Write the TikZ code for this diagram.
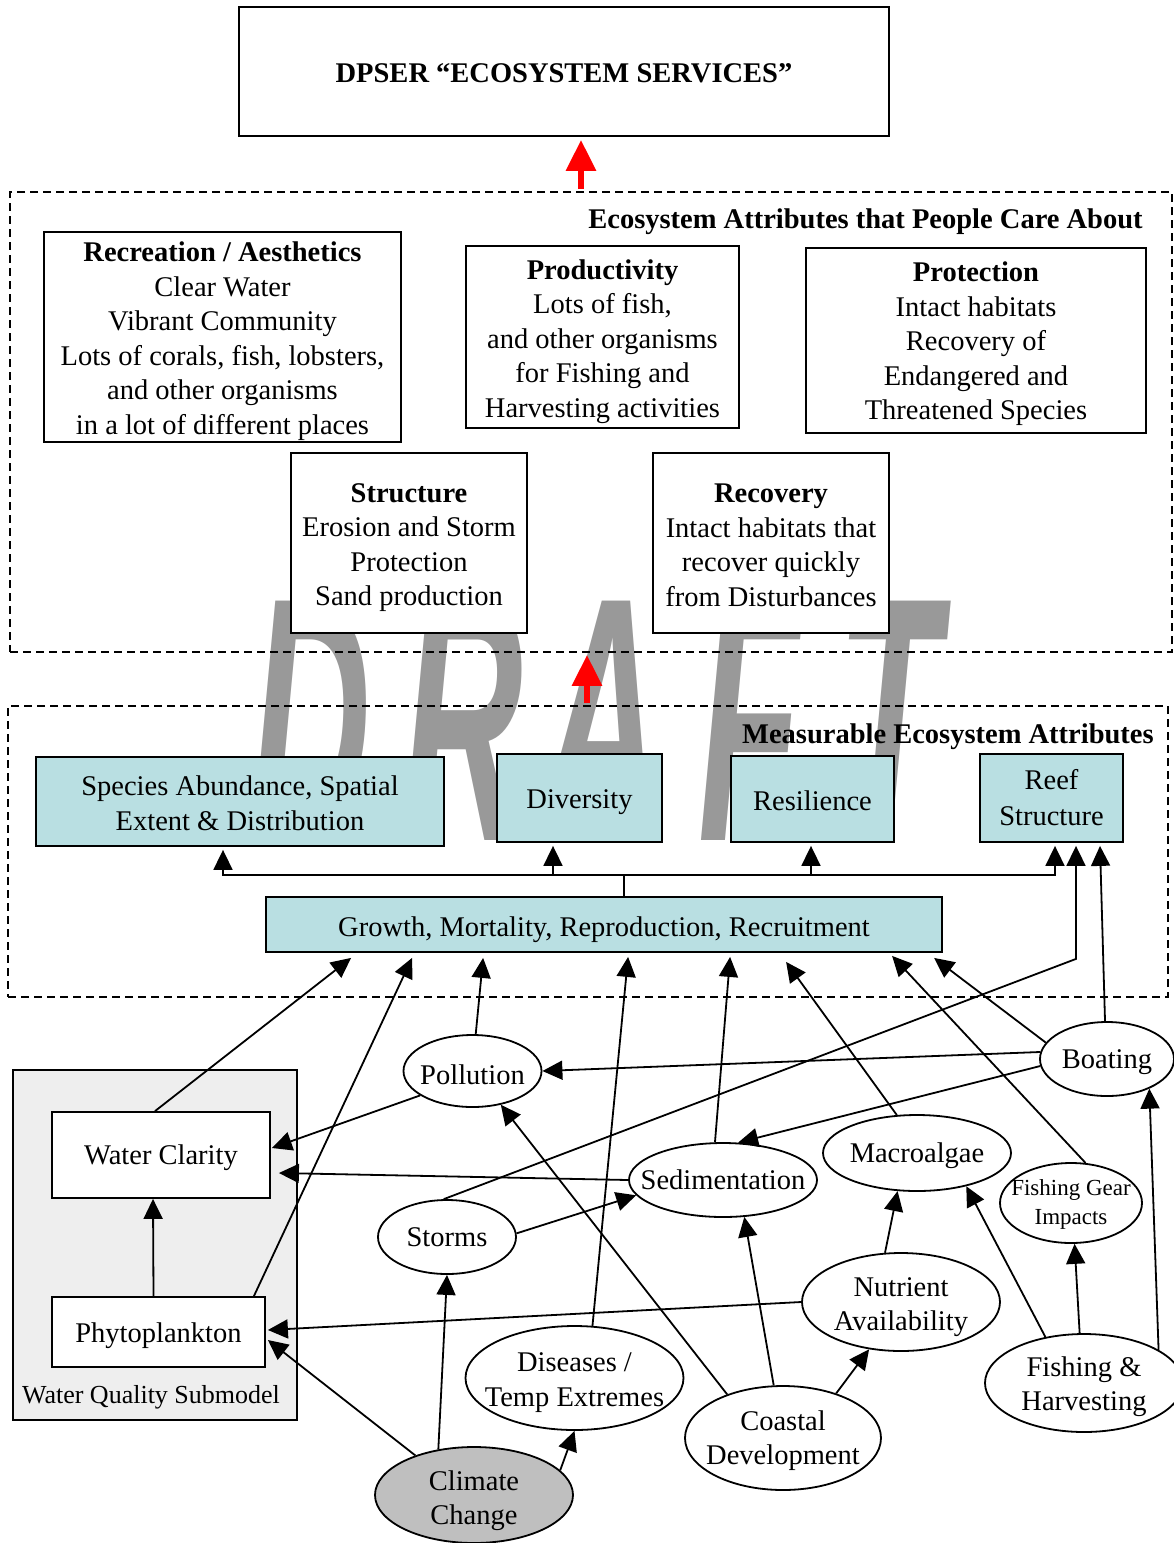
\documentclass[tikz,border=0pt]{standalone}
\usepackage{fontspec}
\usepackage{graphicx}
\setmainfont{Liberation Serif}
\newfontfamily\wmfont{Liberation Sans}
\usetikzlibrary{shapes.geometric,arrows.meta}

\definecolor{boxcyan}{RGB}{185,223,226}
\definecolor{wmgray}{RGB}{153,153,153}
\definecolor{wqgray}{RGB}{238,238,238}
\definecolor{ccgray}{RGB}{191,191,191}

\newcommand\txt{\fontsize{28.5}{34.5}\selectfont}
\newcommand\smalltxt{\fontsize{23}{29}\selectfont}

\tikzset{
  base/.style={line width=1.8pt},
  plainbox/.style={draw, line width=1.8pt, fill=white, inner sep=0pt},
  cyanbox/.style={plainbox, fill=boxcyan},
  ell/.style={draw, ellipse, line width=1.8pt, fill=white, inner sep=0pt},
  lbl/.style={align=center, inner sep=0pt},
  dashbox/.style={draw, line width=1.8pt, dash pattern=on 8pt off 5pt, inner sep=0pt},
  conn/.style={line width=1.8pt, -{Triangle[length=20pt,width=19pt]}},
  redarr/.style={draw=red, line width=6pt, -{Triangle[length=31pt,width=29pt]}},
  wm/.style={anchor=base, inner sep=0pt, text=wmgray,
    font={\wmfont\bfseries\itshape\fontsize{348}{348}\selectfont}},
  title/.style={anchor=east, inner sep=0pt, font=\txt\bfseries},
}

\begin{document}
\begin{tikzpicture}[x=1pt, y=-1pt, font=\txt]
\useasboundingbox (0,0) rectangle (1174,1543);

% background watermark
\foreach \ch/\cx in {D/311,R/463,A/602,F/750,T/889}
  \node[wm] (wm\ch) at (\cx,840) {\scalebox{0.48}[1]{\ch}};

% top-level box
\node[plainbox, minimum width=650pt, minimum height=129pt,
  label={[lbl, yshift=-2pt, font=\txt\bfseries]center:{DPSER “ECOSYSTEM SERVICES”}}]
  (top) at (564,71.5) {};

% attributes that people care about
\node[dashbox, minimum width=1162pt, minimum height=460pt] (care) at (591,422) {};
\node[title] (caretitle) at ([shift={(-30,31)}]care.north east)
  {Ecosystem Attributes that People Care About};

\node[plainbox, minimum width=357pt, minimum height=210pt,
  label={[lbl, yshift=-4pt]center:{\textbf{Recreation / Aesthetics}\\Clear Water\\Vibrant Community\\
   Lots of corals, fish, lobsters,\\and other organisms\\in a lot of different places}}]
  (rec) at (222.5,337) {};
\node[plainbox, minimum width=273pt, minimum height=182pt,
  label={[lbl, yshift=-4.5pt]center:{\textbf{Productivity}\\Lots of fish,\\and other organisms\\
   for Fishing and\\Harvesting activities}}]
  (prod) at (602.5,337) {};
\node[plainbox, minimum width=340pt, minimum height=185pt,
  label={[lbl, yshift=-3.5pt]center:{\textbf{Protection}\\Intact habitats\\Recovery of\\
   Endangered and\\Threatened Species}}]
  (prot) at (976,340.5) {};
\node[plainbox, minimum width=236pt, minimum height=180pt,
  label={[lbl, yshift=-4.5pt]center:{\textbf{Structure}\\Erosion and Storm\\Protection\\Sand production}}]
  (struc) at (409,543) {};
\node[plainbox, minimum width=236pt, minimum height=180pt,
  label={[lbl, yshift=-2.5pt]center:{\textbf{Recovery}\\Intact habitats that\\recover quickly\\from Disturbances}}]
  (recov) at (771,543) {};

% measurable attributes
\node[dashbox, minimum width=1160pt, minimum height=291pt] (meas) at (588,851.5) {};
\node[title] (meastitle) at ([shift={(-15,32)}]meas.north east)
  {Measurable Ecosystem Attributes};

\node[cyanbox, minimum width=408pt, minimum height=89pt,
  label={[lbl, yshift=-1.5pt, font=\fontsize{28.5}{35}\selectfont]center:{Species Abundance, Spatial\\
   Extent \& Distribution}}]
  (sp) at (240,801.5) {};
\node[cyanbox, minimum width=165pt, minimum height=88pt,
  label={[lbl, yshift=-4pt]center:Diversity}] (div) at (579.5,798) {};
\node[cyanbox, minimum width=163pt, minimum height=86pt,
  label={[lbl, yshift=-2pt]center:Resilience}] (res) at (812.5,799) {};
\node[cyanbox, minimum width=143pt, minimum height=88pt,
  label={[lbl, font=\fontsize{28.5}{36}\selectfont]center:{Reef\\Structure}}]
  (reef) at (1051.5,798) {};
\node[cyanbox, minimum width=676pt, minimum height=55pt,
  label={[lbl, yshift=-5pt]center:{Growth, Mortality, Reproduction, Recruitment}}]
  (grow) at (604,924.5) {};

% water quality submodel
\node[draw, line width=1.8pt, fill=wqgray, minimum width=284pt, minimum height=350pt,
  inner sep=0pt] (wq) at (155,1245) {};
\node[inner sep=0pt, font=\fontsize{26}{30}\selectfont] (wqlabel) at (151,1397)
  {Water Quality Submodel};
\node[plainbox, minimum width=218pt, minimum height=86pt,
  label={[lbl, yshift=-3pt]center:Water Clarity}] (wc) at (161,1155) {};
\node[plainbox, minimum width=213pt, minimum height=70pt,
  label={[lbl, yshift=-4pt]center:Phytoplankton}] (phy) at (158.5,1332) {};

% drivers and pressures
\node[ell, minimum width=138pt, minimum height=72pt,
  label={[lbl, yshift=-4pt]center:Pollution}] (pol) at (472.5,1071) {};
\node[ell, minimum width=134pt, minimum height=74pt,
  label={[lbl, yshift=-3pt]center:Boating}] (boat) at (1107,1059) {};
\node[ell, minimum width=188pt, minimum height=74pt,
  label={[lbl]center:Sedimentation}] (sed) at (723,1180) {};
\node[ell, minimum width=188pt, minimum height=76pt,
  label={[lbl, yshift=-3pt]center:Macroalgae}] (mac) at (917,1153) {};
\node[ell, minimum width=142pt, minimum height=80pt,
  label={[lbl, yshift=-1pt, font=\smalltxt]center:{Fishing Gear\\Impacts}}] (fg) at (1071,1203) {};
\node[ell, minimum width=138pt, minimum height=74pt,
  label={[lbl]center:Storms}] (sto) at (447,1237) {};
\node[ell, minimum width=198pt, minimum height=98pt,
  label={[lbl, yshift=-5pt]center:{Nutrient\\Availability}}] (nut) at (901,1302) {};
\node[ell, minimum width=218pt, minimum height=104pt,
  label={[lbl, yshift=-4.5pt]center:{Diseases /\\Temp Extremes}}] (dis) at (574.5,1378) {};
\node[ell, minimum width=196pt, minimum height=104pt,
  label={[lbl, yshift=-2.5pt]center:{Coastal\\Development}}] (coast) at (783,1438) {};
\node[ell, minimum width=198pt, minimum height=98pt,
  label={[lbl, yshift=-3.5pt]center:{Fishing \&\\Harvesting}}] (fh) at (1084,1383) {};
\node[ell, fill=ccgray, minimum width=198pt, minimum height=96pt,
  label={[lbl, yshift=-5.5pt]center:{Climate\\Change}}] (cc) at (474,1495) {};

% flows between the tiers
\draw[redarr] ([shift={(-10,-2)}]care.north) -- ([shift={(17,3)}]top.south);
\draw[redarr] ([shift={(-1,-2)}]meas.north) -- ([shift={(-4,2)}]care.south);

% growth feeds the measurable attributes
\coordinate (bus) at ([shift={(20,-21)}]grow.north);
\draw[base] (bus) -- ([xshift=20pt]grow.north);
\draw[conn] (bus) -| ([shift={(-17,3)}]sp.south);
\draw[conn] (bus) -| ([shift={(-26.5,3)}]div.south);
\draw[conn] (bus) -| ([shift={(-1.5,3)}]res.south);
\draw[conn] (bus) -| ([shift={(3.5,3)}]reef.south);

% inputs to growth, mortality, reproduction, recruitment
\draw[conn] ([xshift=-6pt]wc.north) -- ([shift={(86,5)}]grow.south west);
\draw[conn] ([xshift=-12pt]phy.north east) -- ([shift={(147,5)}]grow.south west);
\draw[conn] (pol.85) -- ([shift={(218,5)}]grow.south west);
\draw[conn] (dis.71) -- ([shift={(363,4)}]grow.south west);
\draw[conn] (sed.102) -- ([shift={(465,4)}]grow.south west);
\draw[conn] (mac.118) -- ([shift={(521,9)}]grow.south west);
\draw[conn] (fg.70) -- ([shift={(627,3)}]grow.south west);
\draw[conn] (boat.165) -- ([shift={(669,5)}]grow.south west);

% inputs to reef structure
\draw[conn] (sto.95) -- ([shift={(24.5,116)}]reef.south) -- ([shift={(24.5,3)}]reef.south);
\draw[conn] (boat.93) -- ([shift={(48.5,3)}]reef.south);

% pressures among drivers
\draw[conn] (boat.174) -- (pol.east);
\draw[conn] (boat.186) -- (sed.68);
\draw[conn] (pol.205) -- ([shift={(1,-7)}]wc.east);
\draw[conn] (sed.west) -- ([shift={(8,18)}]wc.east);
\draw[conn] (sto.3) -- (sed.190);
\draw[conn] ([xshift=-5pt]phy.north) -- ([xshift=-8pt]wc.south);
\draw[conn] (cc.128) -- (sto.south);
\draw[conn] (cc.146) -- ([shift={(2,8)}]phy.east);
\draw[conn] (cc.16) -- (dis.south);
\draw[conn] (coast.142) -- (pol.310);
\draw[conn] (coast.100) -- (sed.300);
\draw[conn] (coast.40) -- (nut.236);
\draw[conn] (nut.west) -- ([shift={(2,-2)}]phy.east);
\draw[conn] (nut.108) -- (mac.243);
\draw[conn] (fh.130) -- (mac.326);
\draw[conn] (fh.95) -- (fg.275);
\draw[conn] (fh.24) -- (boat.325);
\end{tikzpicture}
\end{document}
